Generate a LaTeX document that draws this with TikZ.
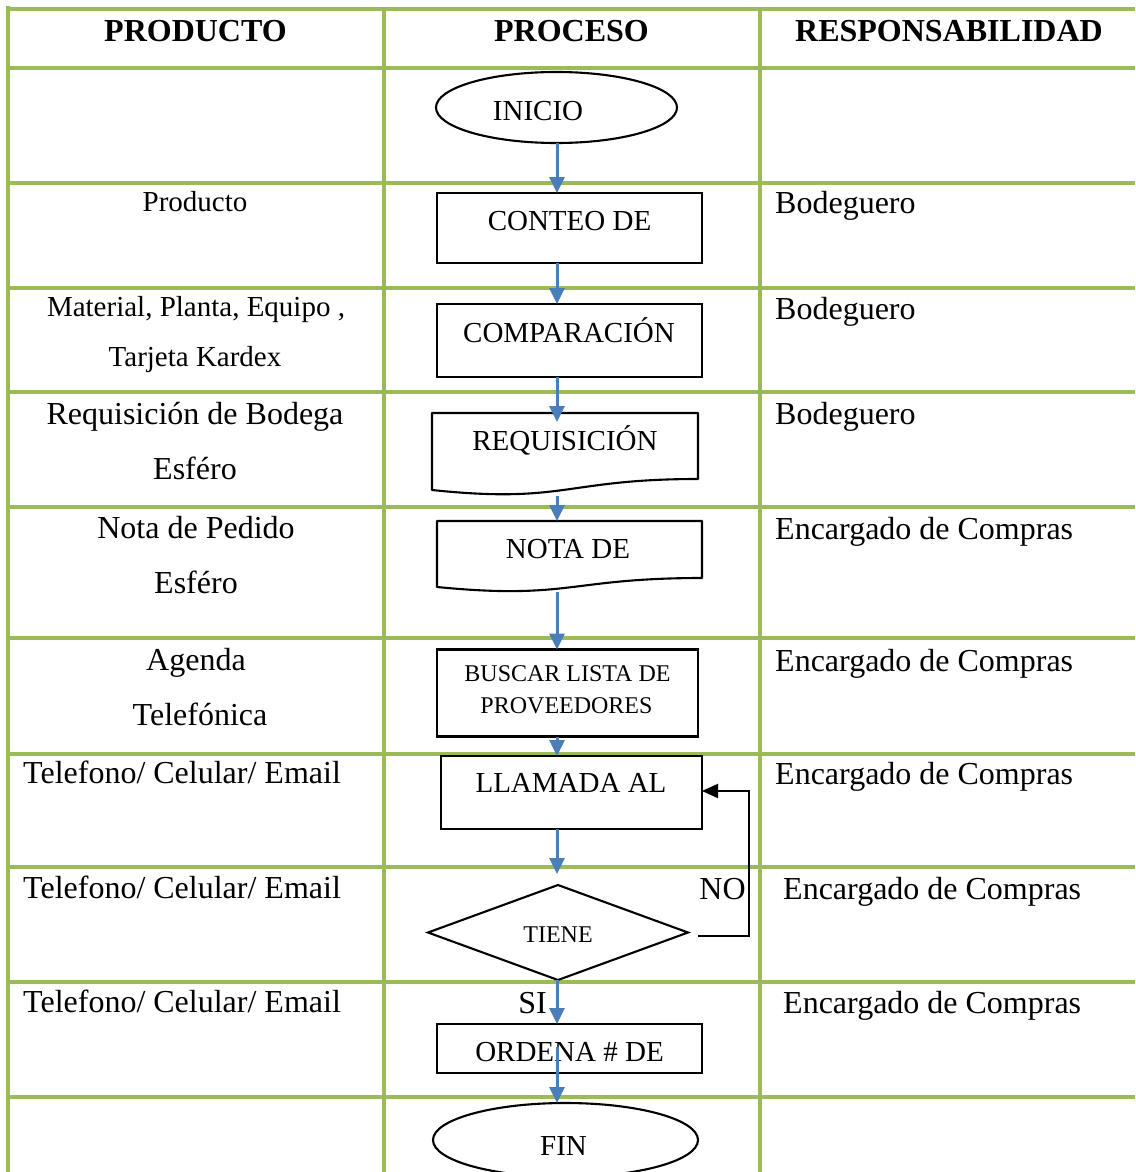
\documentclass[tikz,border=0pt]{standalone}
\usepackage{fontspec}
\setmainfont{Liberation Serif}
\usetikzlibrary{arrows.meta,shapes.geometric,calc}
\definecolor{gridgreen}{HTML}{9BBB59}
\definecolor{flowblue}{HTML}{4A7EBB}
\begin{document}
\begin{tikzpicture}[x=1pt,y=-1pt,
  gridline/.style={draw=gridgreen,line width=3.8pt},
  shapebox/.style={draw=black,fill=white,line width=2.1pt,inner sep=0pt,outer sep=0pt},
  docframe/.style={draw=none,inner sep=0pt,outer sep=0pt},
  docline/.style={draw=black,fill=white,line width=2.1pt,line join=round},
  flowarrow/.style={draw=flowblue,line width=3pt,-{Triangle[length=16pt,width=15pt]}},
  looparrow/.style={draw=black,line width=2.1pt,-{Triangle[length=16pt,width=14pt]}},
  txthead/.style={font=\fontsize{32}{38}\selectfont\bfseries,inner sep=0pt,anchor=base},
  txtbig/.style={font=\fontsize{32}{38}\selectfont,inner sep=0pt,anchor=base},
  txtmid/.style={font=\fontsize{29}{35}\selectfont,inner sep=0pt,anchor=base},
  txtsmall/.style={font=\fontsize{24}{29}\selectfont,inner sep=0pt,anchor=base},
  txtleft/.style={font=\fontsize{32}{38}\selectfont,inner sep=0pt,anchor=base west}
]
\useasboundingbox (0,0) rectangle (1135,1172);
\clip (0,0) rectangle (1135,1172);

% grid
\foreach \yy in {9,68,183,288,392,507,638,754,867,982,1097}
  \draw[gridline] (8,\yy) -- (1135,\yy);
\draw[gridline] (8,6) -- (8,1172);
\draw[gridline] (384,9) -- (384,1172);
\draw[gridline] (760,9) -- (760,1172);

% headers
\node[txthead] (h1) at (195.5,42) {PRODUCTO};
\node[txthead] (h2) at (571.5,42) {PROCESO};
\node[txthead] (h3) at (949,42) {RESPONSABILIDAD};

% product column
\node[txtmid] (p1) at (195,211) {Producto};
\node[txtmid] (p2a) at (196,316) {Material, Planta, Equipo ,};
\node[txtmid] (p2b) at (195,366) {Tarjeta Kardex};
\node[txtbig] (p3a) at (195,424) {Requisición de Bodega};
\node[txtbig] (p3b) at (195,479) {Esféro};
\node[txtbig] (p4a) at (196,538) {Nota de Pedido};
\node[txtbig] (p4b) at (196,593) {Esféro};
\node[txtbig] (p5a) at (196,670) {Agenda};
\node[txtbig] (p5b) at (200,725) {Telefónica};
\node[txtleft] (p6) at (23,783) {Telefono/ Celular/ Email};
\node[txtleft] (p7) at (23,898) {Telefono/ Celular/ Email};
\node[txtleft] (p8) at (23,1012) {Telefono/ Celular/ Email};

% responsibility column
\node[txtleft] (r1) at (775,213) {Bodeguero};
\node[txtleft] (r2) at (775,319) {Bodeguero};
\node[txtleft] (r3) at (775,424) {Bodeguero};
\node[txtleft] (r4) at (775,539) {Encargado de Compras};
\node[txtleft] (r5) at (775,671) {Encargado de Compras};
\node[txtleft] (r6) at (775,784) {Encargado de Compras};
\node[txtleft] (r7) at (783,899) {Encargado de Compras};
\node[txtleft] (r8) at (783,1013) {Encargado de Compras};

% process shapes
\node[shapebox,ellipse,minimum width=241pt,minimum height=71pt] (ini) at (556.5,107.5) {};
\node[txtmid] (tini) at (538,120) {INICIO};

\node[shapebox,rectangle,minimum width=265pt,minimum height=70pt] (cont) at (569.5,228) {};
\node[txtmid] (tcont) at (569.5,230) {CONTEO DE};

\node[shapebox,rectangle,minimum width=265pt,minimum height=73pt] (comp) at (569.5,340.5) {};
\node[txtmid] (tcomp) at (569,342) {COMPARACIÓN};

\node[docframe,minimum width=266pt,minimum height=82pt] (req) at (565,454) {};
\draw[docline] (req.north west) -- (req.north east) -- (698,479)
  .. controls (565,479) and (565,504) .. (432,490) -- cycle;
\node[txtmid] (treq) at (565,450) {REQUISICIÓN};

\node[docframe,minimum width=265pt,minimum height=71pt] (nota) at (569.5,556.5) {};
\draw[docline] (nota.north west) -- (nota.north east) -- (702,578)
  .. controls (569.5,578) and (569.5,600) .. (437,587) -- cycle;
\node[txtmid] (tnota) at (568,558) {NOTA DE};

\node[shapebox,rectangle,minimum width=261pt,minimum height=87pt] (busc) at (567.5,693) {};
\node[txtsmall] (tbusc1) at (567.5,681) {BUSCAR LISTA DE};
\node[txtsmall] (tbusc2) at (566.5,713) {PROVEEDORES};

\node[shapebox,rectangle,minimum width=261pt,minimum height=73pt] (llam) at (571.5,792.5) {};
\node[txtmid] (tllam) at (571,792) {LLAMADA AL};

\node[shapebox,diamond,minimum width=260pt,minimum height=95pt] (dia) at (558,932.5) {};
\node[txtsmall] (tdia) at (558,942) {TIENE};

\node[shapebox,rectangle,minimum width=265pt,minimum height=49pt] (ord) at (569.5,1048.5) {};
\node[txtmid] (tord) at (569.5,1061) {ORDENA \# DE};

\node[shapebox,ellipse,minimum width=265pt,minimum height=74pt] (fin) at (565.5,1140) {};
\node[txtmid] (tfin) at (563.5,1155) {FIN};

% connectors
\coordinate (ax) at (557,0);
\draw[flowarrow] (ax |- ini.south) -- (ax |- cont.north);
\draw[flowarrow] (ax |- cont.south) -- (ax |- comp.north);
\draw[flowarrow] (ax |- comp.south) -- ($(ax |- req.north)+(0,9)$);
\draw[flowarrow] ($(ax |- req.south)+(0,1)$) -- (ax |- nota.north);
\draw[flowarrow] (ax |- nota.south) -- (ax |- busc.north);
\draw[flowarrow] (ax |- busc.south) -- (ax |- llam.north);
\draw[flowarrow] (ax |- llam.south) -- ($(ax |- dia.north)+(0,-11)$);
\draw[flowarrow] (ax |- dia.south) -- (ax |- ord.north);
\draw[flowarrow] ($(ax |- ord.center)+(0,-1.5)$) -- (ax |- fin.north);

\draw[looparrow] ($(dia.east)+(10,3.5)$) -| ($(llam.east)+(47,-1.5)$) -- ($(llam.east)+(0,-1.5)$);

\node[txtbig] (lno) at (722.5,899) {NO};
\node[txtbig] (lsi) at (532.5,1013) {SI};
\end{tikzpicture}
\end{document}
